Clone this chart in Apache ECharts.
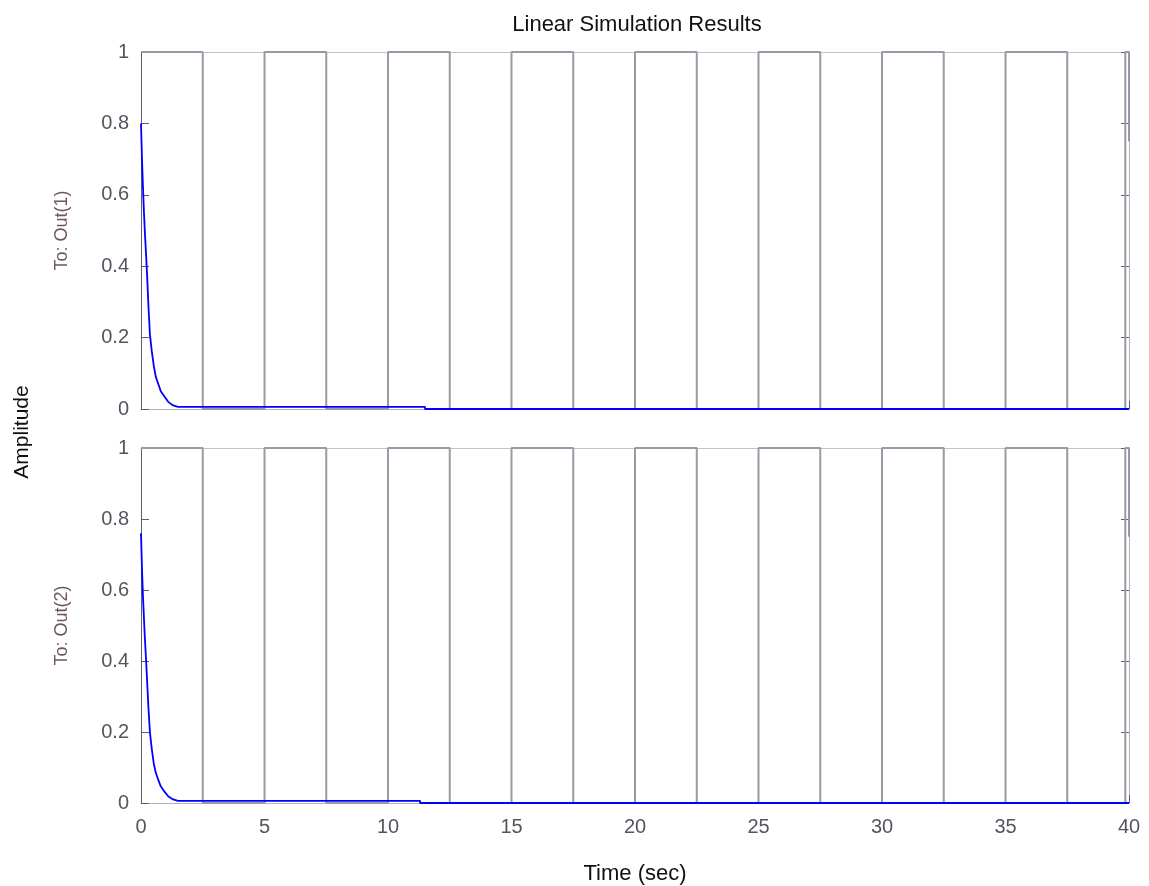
<!DOCTYPE html>
<html>
<head>
<meta charset="utf-8">
<script src="https://cdn.jsdelivr.net/npm/echarts@6/dist/echarts.min.js"></script>
<style>
  html, body { margin: 0; padding: 0; background: #fff; }
  #main { width: 1149px; height: 886px; }
</style>
</head>
<body>
<div id="main"></div>
<script>
// input signal: switch times and levels (square wave, period 5 s)
var inputTimes = [0, 2.5, 2.5, 5, 5, 7.5, 7.5, 10, 10, 12.5, 12.5, 15, 15, 17.5, 17.5, 20, 20,
  22.5, 22.5, 25, 25, 27.5, 27.5, 30, 30, 32.5, 32.5, 35, 35, 37.5, 37.5, 39.85, 39.85, 40, 40];
var inputLevels = [1, 1, 0, 0, 1, 1, 0, 0, 1, 1, 0, 0, 1, 1, 0, 0, 1,
  1, 0, 0, 1, 1, 0, 0, 1, 1, 0, 0, 1, 1, 0, 0, 1, 1, 0.75, 0.75, 0.25];

// output 1 response
var out1Times = [0, 0.04, 0.08, 0.12, 0.16, 0.2, 0.25, 0.3, 0.36, 0.44, 0.52, 0.6, 0.7, 0.8, 0.95, 1.1, 1.3, 1.5, 11.5, 11.5, 40];
var out1Vals = [0.80, 0.70, 0.62, 0.55, 0.49, 0.44, 0.37, 0.29, 0.21, 0.16, 0.12, 0.09, 0.07, 0.05, 0.035, 0.02, 0.01, 0.006, 0.006, 0, 0];

// output 2 response
var out2Times = [0, 0.04, 0.08, 0.12, 0.16, 0.2, 0.25, 0.3, 0.36, 0.44, 0.52, 0.6, 0.7, 0.8, 0.95, 1.1, 1.3, 1.5, 11.3, 11.3, 40];
var out2Vals = [0.76, 0.66, 0.58, 0.52, 0.46, 0.41, 0.34, 0.27, 0.20, 0.15, 0.11, 0.085, 0.065, 0.047, 0.032, 0.019, 0.01, 0.006, 0.006, 0, 0];

function pairs(xs, ys) {
  var d = [];
  for (var i = 0; i < xs.length; i++) d.push([xs[i], ys[i]]);
  return d;
}

var FONT = 'Liberation Sans';
var darkAxis = '#5c5c72';
var lightAxis = '#b4b4b4';
var tickColor = '#55555f';

function xAxisDef(grid, pos, showLabels) {
  return {
    type: 'value', gridIndex: grid, position: pos, min: 0, max: 40, interval: 5,
    axisLine: { show: true, onZero: false, lineStyle: { color: pos === 'top' ? '#c4c4c4' : lightAxis, width: 1 } },
    axisTick: { show: true, inside: true, length: 8, lineStyle: { color: darkAxis } },
    axisLabel: { show: showLabels, color: tickColor, fontFamily: FONT, fontSize: 20, margin: 14 },
    splitLine: { show: false },
    name: showLabels ? 'Time (sec)' : '', nameLocation: 'middle', nameGap: 60,
    nameTextStyle: { color: '#111', fontFamily: FONT, fontSize: 22 }
  };
}

function yAxisDef(grid, pos, name) {
  return {
    type: 'value', gridIndex: grid, position: pos, min: 0, max: 1, interval: 0.2,
    axisLine: { show: true, onZero: false, lineStyle: { color: pos === 'left' ? darkAxis : lightAxis, width: 1 } },
    axisTick: { show: true, inside: true, length: 8, lineStyle: { color: darkAxis } },
    axisLabel: { show: pos === 'left', color: tickColor, fontFamily: FONT, fontSize: 20, margin: 12,
      formatter: function (v) { return String(Math.round(v * 10) / 10); } },
    splitLine: { show: false },
    name: name, nameLocation: 'middle', nameGap: 70, nameRotate: 90,
    nameTextStyle: { color: '#6e5566', fontFamily: FONT, fontSize: 18 }
  };
}

var chart = echarts.init(document.getElementById('main'), null, { renderer: 'canvas' });

chart.setOption({
  animation: false,
  backgroundColor: '#fff',
  title: {
    text: 'Linear Simulation Results', left: 632, top: 9, textAlign: 'center',
    textStyle: { color: '#111', fontFamily: FONT, fontSize: 22, fontWeight: 'normal' }
  },
  graphic: [{
    type: 'text', x: 22, y: 432, rotation: Math.PI / 2,
    style: { text: 'Amplitude', fill: '#111', font: '21px "Liberation Sans"', textAlign: 'center', textVerticalAlign: 'middle' }
  }],
  grid: [
    { left: 141, top: 52, width: 988, height: 357 },
    { left: 141, top: 448, width: 988, height: 357 }
  ],
  xAxis: [
    xAxisDef(0, 'bottom', false), xAxisDef(0, 'top', false),
    xAxisDef(1, 'bottom', true), xAxisDef(1, 'top', false)
  ],
  yAxis: [
    yAxisDef(0, 'left', 'To: Out(1)'), yAxisDef(0, 'right', ''),
    yAxisDef(1, 'left', 'To: Out(2)'), yAxisDef(1, 'right', '')
  ],
  series: [
    { type: 'line', xAxisIndex: 0, yAxisIndex: 0, data: pairs(inputTimes, inputLevels), showSymbol: false,
      lineStyle: { color: '#9a9aa6', width: 2 }, z: 2 },
    { type: 'line', xAxisIndex: 0, yAxisIndex: 0, data: pairs(out1Times, out1Vals), showSymbol: false,
      lineStyle: { color: '#0000ff', width: 1.8 }, z: 3 },
    { type: 'line', xAxisIndex: 2, yAxisIndex: 2, data: pairs(inputTimes, inputLevels), showSymbol: false,
      lineStyle: { color: '#9a9aa6', width: 2 }, z: 2 },
    { type: 'line', xAxisIndex: 2, yAxisIndex: 2, data: pairs(out2Times, out2Vals), showSymbol: false,
      lineStyle: { color: '#0000ff', width: 1.8 }, z: 3 }
  ]
});
</script>
</body>
</html>
